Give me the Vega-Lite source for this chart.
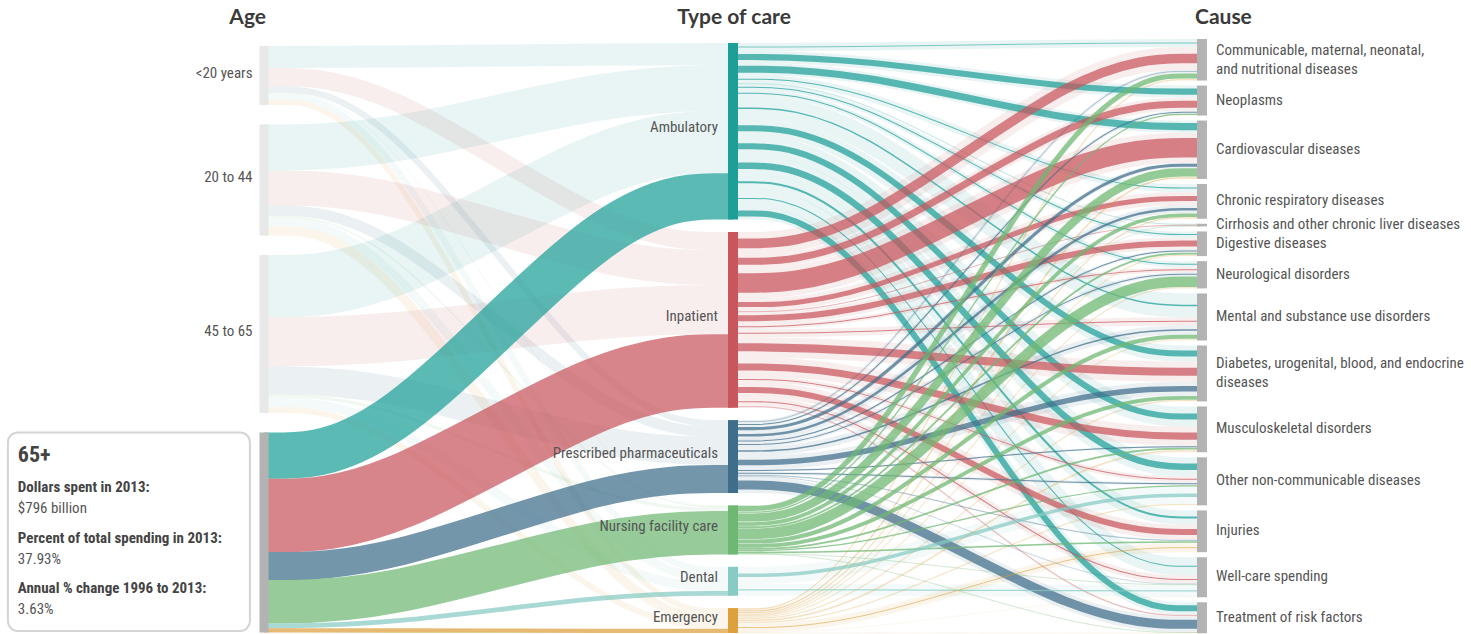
{
  "$schema": "https://vega.github.io/schema/vega-lite/v6.json",
  "width": 1471,
  "height": 634,
  "padding": 0,
  "autosize": {"type": "none"},
  "background": "white",
  "config": {"view": {"stroke": null}},
  "datasets": {
    "ageLinks": [
      {"age": "<20 years", "care": "Ambulatory", "value": 88},
      {"age": "<20 years", "care": "Inpatient", "value": 72},
      {"age": "<20 years", "care": "Prescribed pharmaceuticals", "value": 25},
      {"age": "<20 years", "care": "Nursing facility care", "value": 3},
      {"age": "<20 years", "care": "Dental", "value": 25},
      {"age": "<20 years", "care": "Emergency", "value": 22},
      {"age": "20 to 44", "care": "Ambulatory", "value": 183},
      {"age": "20 to 44", "care": "Inpatient", "value": 139},
      {"age": "20 to 44", "care": "Prescribed pharmaceuticals", "value": 42},
      {"age": "20 to 44", "care": "Nursing facility care", "value": 6},
      {"age": "20 to 44", "care": "Dental", "value": 34},
      {"age": "20 to 44", "care": "Emergency", "value": 37},
      {"age": "45 to 65", "care": "Ambulatory", "value": 247},
      {"age": "45 to 65", "care": "Inpatient", "value": 196},
      {"age": "45 to 65", "care": "Prescribed pharmaceuticals", "value": 112},
      {"age": "45 to 65", "care": "Nursing facility care", "value": 13},
      {"age": "45 to 65", "care": "Dental", "value": 37},
      {"age": "45 to 65", "care": "Emergency", "value": 23},
      {"age": "65+", "care": "Ambulatory", "value": 184},
      {"age": "65+", "care": "Inpatient", "value": 292},
      {"age": "65+", "care": "Prescribed pharmaceuticals", "value": 111},
      {"age": "65+", "care": "Nursing facility care", "value": 173},
      {"age": "65+", "care": "Dental", "value": 19},
      {"age": "65+", "care": "Emergency", "value": 17}
    ],
    "careLinks": [
      {"care": "Ambulatory", "cause": "Communicable, maternal, neonatal, and nutritional diseases", "total": 32, "older": 3},
      {"care": "Ambulatory", "cause": "Neoplasms", "total": 48, "older": 24},
      {"care": "Ambulatory", "cause": "Cardiovascular diseases", "total": 48, "older": 28},
      {"care": "Ambulatory", "cause": "Chronic respiratory diseases", "total": 32, "older": 4},
      {"care": "Ambulatory", "cause": "Cirrhosis and other chronic liver diseases", "total": 4, "older": 1},
      {"care": "Ambulatory", "cause": "Digestive diseases", "total": 24, "older": 4},
      {"care": "Ambulatory", "cause": "Neurological disorders", "total": 24, "older": 4},
      {"care": "Ambulatory", "cause": "Mental and substance use disorders", "total": 95, "older": 6},
      {"care": "Ambulatory", "cause": "Diabetes, urogenital, blood, and endocrine diseases", "total": 64, "older": 24},
      {"care": "Ambulatory", "cause": "Musculoskeletal disorders", "total": 80, "older": 24},
      {"care": "Ambulatory", "cause": "Other non-communicable diseases", "total": 75, "older": 26},
      {"care": "Ambulatory", "cause": "Injuries", "total": 56, "older": 8},
      {"care": "Ambulatory", "cause": "Well-care spending", "total": 72, "older": 4},
      {"care": "Ambulatory", "cause": "Treatment of risk factors", "total": 48, "older": 24},
      {"care": "Inpatient", "cause": "Communicable, maternal, neonatal, and nutritional diseases", "total": 91, "older": 38},
      {"care": "Inpatient", "cause": "Neoplasms", "total": 52, "older": 28},
      {"care": "Inpatient", "cause": "Cardiovascular diseases", "total": 120, "older": 78},
      {"care": "Inpatient", "cause": "Chronic respiratory diseases", "total": 52, "older": 20},
      {"care": "Inpatient", "cause": "Cirrhosis and other chronic liver diseases", "total": 4, "older": 2},
      {"care": "Inpatient", "cause": "Digestive diseases", "total": 48, "older": 24},
      {"care": "Inpatient", "cause": "Neurological disorders", "total": 20, "older": 4},
      {"care": "Inpatient", "cause": "Mental and substance use disorders", "total": 32, "older": 4},
      {"care": "Inpatient", "cause": "Diabetes, urogenital, blood, and endocrine diseases", "total": 80, "older": 32},
      {"care": "Inpatient", "cause": "Musculoskeletal disorders", "total": 76, "older": 28},
      {"care": "Inpatient", "cause": "Other non-communicable diseases", "total": 24, "older": 4},
      {"care": "Inpatient", "cause": "Injuries", "total": 60, "older": 24},
      {"care": "Inpatient", "cause": "Well-care spending", "total": 32, "older": 4},
      {"care": "Inpatient", "cause": "Treatment of risk factors", "total": 8, "older": 2},
      {"care": "Prescribed pharmaceuticals", "cause": "Communicable, maternal, neonatal, and nutritional diseases", "total": 12, "older": 2},
      {"care": "Prescribed pharmaceuticals", "cause": "Neoplasms", "total": 12, "older": 4},
      {"care": "Prescribed pharmaceuticals", "cause": "Cardiovascular diseases", "total": 20, "older": 12},
      {"care": "Prescribed pharmaceuticals", "cause": "Chronic respiratory diseases", "total": 32, "older": 10},
      {"care": "Prescribed pharmaceuticals", "cause": "Cirrhosis and other chronic liver diseases", "total": 1, "older": 0.4},
      {"care": "Prescribed pharmaceuticals", "cause": "Digestive diseases", "total": 12, "older": 4},
      {"care": "Prescribed pharmaceuticals", "cause": "Neurological disorders", "total": 16, "older": 4},
      {"care": "Prescribed pharmaceuticals", "cause": "Mental and substance use disorders", "total": 36, "older": 6},
      {"care": "Prescribed pharmaceuticals", "cause": "Diabetes, urogenital, blood, and endocrine diseases", "total": 56, "older": 22},
      {"care": "Prescribed pharmaceuticals", "cause": "Musculoskeletal disorders", "total": 8, "older": 4},
      {"care": "Prescribed pharmaceuticals", "cause": "Other non-communicable diseases", "total": 12, "older": 4},
      {"care": "Prescribed pharmaceuticals", "cause": "Injuries", "total": 6, "older": 2},
      {"care": "Prescribed pharmaceuticals", "cause": "Well-care spending", "total": 4, "older": 1},
      {"care": "Prescribed pharmaceuticals", "cause": "Treatment of risk factors", "total": 63, "older": 36},
      {"care": "Nursing facility care", "cause": "Communicable, maternal, neonatal, and nutritional diseases", "total": 24, "older": 20},
      {"care": "Nursing facility care", "cause": "Neoplasms", "total": 6, "older": 5},
      {"care": "Nursing facility care", "cause": "Cardiovascular diseases", "total": 36, "older": 32},
      {"care": "Nursing facility care", "cause": "Chronic respiratory diseases", "total": 16, "older": 14},
      {"care": "Nursing facility care", "cause": "Cirrhosis and other chronic liver diseases", "total": 1, "older": 1},
      {"care": "Nursing facility care", "cause": "Digestive diseases", "total": 8, "older": 7},
      {"care": "Nursing facility care", "cause": "Neurological disorders", "total": 44, "older": 42},
      {"care": "Nursing facility care", "cause": "Mental and substance use disorders", "total": 18, "older": 16},
      {"care": "Nursing facility care", "cause": "Diabetes, urogenital, blood, and endocrine diseases", "total": 16, "older": 15},
      {"care": "Nursing facility care", "cause": "Musculoskeletal disorders", "total": 8, "older": 7},
      {"care": "Nursing facility care", "cause": "Other non-communicable diseases", "total": 6, "older": 5},
      {"care": "Nursing facility care", "cause": "Injuries", "total": 8, "older": 6},
      {"care": "Nursing facility care", "cause": "Well-care spending", "total": 2, "older": 1.5},
      {"care": "Nursing facility care", "cause": "Treatment of risk factors", "total": 2, "older": 1.5},
      {"care": "Dental", "cause": "Other non-communicable diseases", "total": 68, "older": 14},
      {"care": "Dental", "cause": "Well-care spending", "total": 47, "older": 5},
      {"care": "Emergency", "cause": "Communicable, maternal, neonatal, and nutritional diseases", "total": 6, "older": 1.6},
      {"care": "Emergency", "cause": "Neoplasms", "total": 1, "older": 0.4},
      {"care": "Emergency", "cause": "Cardiovascular diseases", "total": 8, "older": 2.4},
      {"care": "Emergency", "cause": "Chronic respiratory diseases", "total": 6, "older": 1.6},
      {"care": "Emergency", "cause": "Cirrhosis and other chronic liver diseases", "total": 0.4, "older": 0.2},
      {"care": "Emergency", "cause": "Digestive diseases", "total": 6, "older": 1.2},
      {"care": "Emergency", "cause": "Neurological disorders", "total": 4, "older": 1.2},
      {"care": "Emergency", "cause": "Mental and substance use disorders", "total": 6, "older": 0.8},
      {"care": "Emergency", "cause": "Diabetes, urogenital, blood, and endocrine diseases", "total": 6, "older": 1.2},
      {"care": "Emergency", "cause": "Musculoskeletal disorders", "total": 10, "older": 1.6},
      {"care": "Emergency", "cause": "Other non-communicable diseases", "total": 6, "older": 1.2},
      {"care": "Emergency", "cause": "Injuries", "total": 36, "older": 3.2},
      {"care": "Emergency", "cause": "Well-care spending", "total": 2, "older": 0.2},
      {"care": "Emergency", "cause": "Treatment of risk factors", "total": 2, "older": 0.4}
    ],
    "info": [
      {"age": "65+", "spent": "$796 billion", "share": "37.93%", "change": "3.63%"}
    ]
  },
  "layer": [
    {
      "data": {"name": "ageLinks"},
      "transform": [
        {"calculate": "indexof(['<20 years','20 to 44','45 to 65','65+'], datum.age)", "as": "ai"},
        {"calculate": "indexof(['Ambulatory','Inpatient','Prescribed pharmaceuticals','Nursing facility care','Dental','Emergency'], datum.care)", "as": "ci"},
        {"window": [{"op": "sum", "field": "value", "as": "cs"}], "sort": [{"field": "ai"}, {"field": "ci"}], "frame": [null, 0]},
        {"window": [{"op": "sum", "field": "value", "as": "ct"}], "sort": [{"field": "ci"}, {"field": "ai"}], "frame": [null, 0]},
        {"calculate": "datum.cs - datum.value/2 + datum.ai*77.5 + 27.8", "as": "p0"},
        {"calculate": "datum.p0", "as": "p1"},
        {"calculate": "datum.ct - datum.value/2 + datum.ci*49.2 + 15.9", "as": "p3"},
        {"calculate": "datum.p3", "as": "p2"},
        {"fold": ["p0", "p1", "p2", "p3"], "as": ["pt", "y"]},
        {"calculate": "datum.pt == 'p0' ? 0 : datum.pt == 'p1' ? 0.25 : datum.pt == 'p2' ? 0.75 : 1", "as": "x"}
      ],
      "encoding": {
        "x": {"field": "x", "type": "quantitative", "scale": {"domain": [0, 2], "range": [264, 1202]}, "axis": null},
        "y": {"field": "y", "type": "quantitative", "scale": {"domain": [0, 2366], "range": [39, 634]}, "axis": null},
        "detail": [{"field": "age"}, {"field": "care"}],
        "color": {"field": "care", "type": "nominal", "scale": {"domain": ["Ambulatory", "Inpatient", "Prescribed pharmaceuticals", "Nursing facility care", "Dental", "Emergency"], "range": ["#1d9f98", "#c8565d", "#3e6e8a", "#6fb873", "#87cbc4", "#dca03c"]}, "legend": null},
        "strokeWidth": {"field": "value", "type": "quantitative", "scale": {"domain": [0, 2366], "range": [0, 595]}, "legend": null}
      },
      "layer": [
        {"transform": [{"filter": "datum.age != '65+'"}], "mark": {"type": "line", "interpolate": "basis", "opacity": 0.1, "strokeCap": "butt"}},
        {"transform": [{"filter": "datum.age == '65+'"}], "mark": {"type": "line", "interpolate": "basis", "opacity": 0.72, "strokeCap": "butt"}}
      ]
    },
    {
      "data": {"name": "careLinks"},
      "transform": [
        {"calculate": "indexof(['Ambulatory','Inpatient','Prescribed pharmaceuticals','Nursing facility care','Dental','Emergency'], datum.care)", "as": "ci"},
        {"calculate": "indexof(['Communicable, maternal, neonatal, and nutritional diseases','Neoplasms','Cardiovascular diseases','Chronic respiratory diseases','Cirrhosis and other chronic liver diseases','Digestive diseases','Neurological disorders','Mental and substance use disorders','Diabetes, urogenital, blood, and endocrine diseases','Musculoskeletal disorders','Other non-communicable diseases','Injuries','Well-care spending','Treatment of risk factors'], datum.cause)", "as": "ki"},
        {"window": [{"op": "sum", "field": "total", "as": "cs"}], "sort": [{"field": "ci"}, {"field": "ki"}], "frame": [null, 0]},
        {"window": [{"op": "sum", "field": "total", "as": "ct"}], "sort": [{"field": "ki"}, {"field": "ci"}], "frame": [null, 0]},
        {"calculate": "datum.cs - datum.total/2 + datum.ci*49.2 + 15.9", "as": "p0"},
        {"calculate": "datum.p0", "as": "p1"},
        {"calculate": "datum.ct - datum.total/2 + datum.ki*20.2", "as": "p3"},
        {"calculate": "datum.p3", "as": "p2"},
        {"fold": ["p0", "p1", "p2", "p3"], "as": ["pt", "y"]},
        {"calculate": "datum.pt == 'p0' ? 1 : datum.pt == 'p1' ? 1.25 : datum.pt == 'p2' ? 1.75 : 2", "as": "x"}
      ],
      "encoding": {
        "x": {"field": "x", "type": "quantitative", "scale": {"domain": [0, 2], "range": [264, 1202]}, "axis": null},
        "y": {"field": "y", "type": "quantitative", "scale": {"domain": [0, 2366], "range": [39, 634]}, "axis": null},
        "detail": [{"field": "care"}, {"field": "cause"}],
        "color": {"field": "care", "type": "nominal", "scale": {"domain": ["Ambulatory", "Inpatient", "Prescribed pharmaceuticals", "Nursing facility care", "Dental", "Emergency"], "range": ["#1d9f98", "#c8565d", "#3e6e8a", "#6fb873", "#87cbc4", "#dca03c"]}, "legend": null}
      },
      "layer": [
        {"mark": {"type": "line", "interpolate": "basis", "opacity": 0.1, "strokeCap": "butt"},
         "encoding": {"strokeWidth": {"field": "total", "type": "quantitative", "scale": {"domain": [0, 2366], "range": [0, 595]}, "legend": null}}},
        {"mark": {"type": "line", "interpolate": "basis", "opacity": 0.72, "strokeCap": "butt"},
         "encoding": {"strokeWidth": {"field": "older", "type": "quantitative", "scale": {"domain": [0, 2366], "range": [0, 595]}, "legend": null}}}
      ]
    },
    {
      "data": {"name": "ageLinks"},
      "transform": [
        {"aggregate": [{"op": "sum", "field": "value", "as": "v"}], "groupby": ["age"]},
        {"calculate": "indexof(['<20 years','20 to 44','45 to 65','65+'], datum.age)", "as": "ai"},
        {"window": [{"op": "sum", "field": "v", "as": "cum"}], "sort": [{"field": "ai"}], "frame": [null, 0]},
        {"calculate": "datum.cum - datum.v + datum.ai*77.5 + 27.8", "as": "y0"},
        {"calculate": "datum.y0 + datum.v", "as": "y1"},
        {"calculate": "(datum.y0 + datum.y1)/2", "as": "ym"},
        {"calculate": "-0.0096", "as": "xa"},
        {"calculate": "0.0096", "as": "xb"}
      ],
      "layer": [
        {"mark": {"type": "rect"},
         "encoding": {
           "x": {"field": "xa", "type": "quantitative", "scale": {"domain": [0, 2], "range": [264, 1202]}, "axis": null},
           "x2": {"field": "xb"},
           "y": {"field": "y0", "type": "quantitative", "scale": {"domain": [0, 2366], "range": [39, 634]}, "axis": null},
           "y2": {"field": "y1"},
           "color": {"condition": {"test": "datum.age == '65+'", "value": "#b3b3b3"}, "value": "#e8e8e8"}
         }},
        {"transform": [{"filter": "datum.age != '65+'"}],
         "mark": {"type": "text", "align": "right", "baseline": "middle", "dx": -7, "dy": -3, "font": "Liberation Sans Narrow, Roboto Condensed, DejaVu Sans Condensed, sans-serif", "fontSize": 15, "fill": "#555555"},
         "encoding": {
           "x": {"field": "xa", "type": "quantitative", "scale": {"domain": [0, 2], "range": [264, 1202]}, "axis": null},
           "y": {"field": "ym", "type": "quantitative", "scale": {"domain": [0, 2366], "range": [39, 634]}, "axis": null},
           "text": {"field": "age"}
         }}
      ]
    },
    {
      "data": {"name": "ageLinks"},
      "transform": [
        {"aggregate": [{"op": "sum", "field": "value", "as": "v"}], "groupby": ["care"]},
        {"calculate": "indexof(['Ambulatory','Inpatient','Prescribed pharmaceuticals','Nursing facility care','Dental','Emergency'], datum.care)", "as": "ci"},
        {"window": [{"op": "sum", "field": "v", "as": "cum"}], "sort": [{"field": "ci"}], "frame": [null, 0]},
        {"calculate": "datum.cum - datum.v + datum.ci*49.2 + 15.9", "as": "y0"},
        {"calculate": "datum.y0 + datum.v", "as": "y1"},
        {"calculate": "(datum.y0 + datum.y1)/2", "as": "ym"},
        {"calculate": "1 - 0.0107", "as": "xa"},
        {"calculate": "1 + 0.0107", "as": "xb"}
      ],
      "layer": [
        {"mark": {"type": "rect"},
         "encoding": {
           "x": {"field": "xa", "type": "quantitative", "scale": {"domain": [0, 2], "range": [264, 1202]}, "axis": null},
           "x2": {"field": "xb"},
           "y": {"field": "y0", "type": "quantitative", "scale": {"domain": [0, 2366], "range": [39, 634]}, "axis": null},
           "y2": {"field": "y1"},
           "color": {"field": "care", "type": "nominal", "scale": {"domain": ["Ambulatory", "Inpatient", "Prescribed pharmaceuticals", "Nursing facility care", "Dental", "Emergency"], "range": ["#1d9f98", "#c8565d", "#3e6e8a", "#6fb873", "#87cbc4", "#dca03c"]}, "legend": null}
         }},
        {"mark": {"type": "text", "align": "right", "baseline": "middle", "dx": -10, "dy": -4, "font": "Liberation Sans Narrow, Roboto Condensed, DejaVu Sans Condensed, sans-serif", "fontSize": 15, "fill": "#555555"},
         "encoding": {
           "x": {"field": "xa", "type": "quantitative", "scale": {"domain": [0, 2], "range": [264, 1202]}, "axis": null},
           "y": {"field": "ym", "type": "quantitative", "scale": {"domain": [0, 2366], "range": [39, 634]}, "axis": null},
           "text": {"field": "care"}
         }}
      ]
    },
    {
      "data": {"name": "careLinks"},
      "transform": [
        {"aggregate": [{"op": "sum", "field": "total", "as": "v"}], "groupby": ["cause"]},
        {"calculate": "indexof(['Communicable, maternal, neonatal, and nutritional diseases','Neoplasms','Cardiovascular diseases','Chronic respiratory diseases','Cirrhosis and other chronic liver diseases','Digestive diseases','Neurological disorders','Mental and substance use disorders','Diabetes, urogenital, blood, and endocrine diseases','Musculoskeletal disorders','Other non-communicable diseases','Injuries','Well-care spending','Treatment of risk factors'], datum.cause)", "as": "ki"},
        {"window": [{"op": "sum", "field": "v", "as": "cum"}], "sort": [{"field": "ki"}], "frame": [null, 0]},
        {"calculate": "datum.cum - datum.v + datum.ki*20.2", "as": "y0"},
        {"calculate": "datum.y0 + datum.v", "as": "y1"},
        {"calculate": "(datum.y0 + datum.y1)/2", "as": "ym"},
        {"calculate": "2 - 0.0107", "as": "xa"},
        {"calculate": "2 + 0.0107", "as": "xb"},
        {"calculate": "replace(replace(datum.cause, 'neonatal, and', 'neonatal,\\nand'), 'endocrine diseases', 'endocrine\\ndiseases')", "as": "label"}
      ],
      "encoding": {
        "x": {"field": "xb", "type": "quantitative", "scale": {"domain": [0, 2], "range": [264, 1202]}, "axis": null},
        "y": {"field": "ym", "type": "quantitative", "scale": {"domain": [0, 2366], "range": [39, 634]}, "axis": null},
        "text": {"field": "label"}
      },
      "layer": [
        {"mark": {"type": "rect", "fill": "#b3b3b3"},
         "encoding": {
           "x": {"field": "xa", "type": "quantitative", "scale": {"domain": [0, 2], "range": [264, 1202]}, "axis": null},
           "x2": {"field": "xb"},
           "y": {"field": "y0", "type": "quantitative", "scale": {"domain": [0, 2366], "range": [39, 634]}, "axis": null},
           "y2": {"field": "y1"},
           "text": null
         }},
        {"transform": [{"filter": "indexof(datum.label, '\\n') < 0"}],
         "mark": {"type": "text", "align": "left", "baseline": "middle", "dx": 9, "dy": -1, "font": "Liberation Sans Narrow, Roboto Condensed, DejaVu Sans Condensed, sans-serif", "fontSize": 15, "fill": "#555555"}},
        {"transform": [{"filter": "indexof(datum.label, '\\n') >= 0"}],
         "mark": {"type": "text", "align": "left", "baseline": "middle", "dx": 9, "dy": -10, "lineBreak": "\n", "lineHeight": 19, "font": "Liberation Sans Narrow, Roboto Condensed, DejaVu Sans Condensed, sans-serif", "fontSize": 15, "fill": "#555555"}}
      ]
    },
    {
      "data": {"name": "ageLinks"},
      "transform": [
        {"aggregate": [{"op": "sum", "field": "value", "as": "v"}], "groupby": ["age"]},
        {"calculate": "indexof(['<20 years','20 to 44','45 to 65','65+'], datum.age)", "as": "ai"},
        {"window": [{"op": "sum", "field": "v", "as": "cum"}], "sort": [{"field": "ai"}], "frame": [null, 0]},
        {"calculate": "datum.cum - datum.v + datum.ai*77.5 + 27.8", "as": "y0"},
        {"calculate": "datum.y0 + datum.v - 6", "as": "y1"},
        {"filter": "datum.age == '65+'"},
        {"lookup": "age", "from": {"data": {"name": "info"}, "key": "age", "fields": ["spent", "share", "change"]}},
        {"calculate": "[datum.spent, datum.share, datum.change]", "as": "lines"},
        {"calculate": "-0.546", "as": "bx0"},
        {"calculate": "-0.03", "as": "bx1"},
        {"calculate": "-0.5248", "as": "tx"}
      ],
      "encoding": {
        "x": {"field": "tx", "type": "quantitative", "scale": {"domain": [0, 2], "range": [264, 1202]}, "axis": null},
        "y": {"field": "y0", "type": "quantitative", "scale": {"domain": [0, 2366], "range": [39, 634]}, "axis": null}
      },
      "layer": [
        {"mark": {"type": "rect", "fill": "white", "stroke": "#d4d4d4", "strokeWidth": 2, "cornerRadius": 10},
         "encoding": {
           "x": {"field": "bx0", "type": "quantitative", "scale": {"domain": [0, 2], "range": [264, 1202]}, "axis": null},
           "x2": {"field": "bx1"},
           "y2": {"field": "y1"}
         }},
        {"mark": {"type": "text", "align": "left", "baseline": "alphabetic", "dy": 30, "font": "Liberation Sans Narrow, Roboto Condensed, DejaVu Sans Condensed, sans-serif", "fontSize": 22, "fontWeight": "bold", "fill": "#444444"},
         "encoding": {"text": {"field": "age"}}},
        {"mark": {"type": "text", "align": "left", "baseline": "alphabetic", "dy": 60, "lineHeight": 50.5, "font": "Liberation Sans Narrow, Roboto Condensed, DejaVu Sans Condensed, sans-serif", "fontSize": 15, "fontWeight": "bold", "fill": "#444444"},
         "encoding": {"text": {"value": ["Dollars spent in 2013:", "Percent of total spending in 2013:", "Annual % change 1996 to 2013:"]}}},
        {"mark": {"type": "text", "align": "left", "baseline": "alphabetic", "dy": 81, "lineHeight": 50.5, "font": "Liberation Sans Narrow, Roboto Condensed, DejaVu Sans Condensed, sans-serif", "fontSize": 15, "fill": "#555555"},
         "encoding": {"text": {"field": "lines"}}}
      ]
    },
    {
      "data": {"values": [{"title": "Age", "col": 0}]},
      "mark": {"type": "text", "align": "right", "baseline": "middle", "dx": 2, "font": "Lato", "fontSize": 21, "fontWeight": "bold", "fill": "#3a3a3a"},
      "encoding": {
        "x": {"field": "col", "type": "quantitative", "scale": {"domain": [0, 2], "range": [264, 1202]}, "axis": null},
        "y": {"datum": -83, "type": "quantitative", "scale": {"domain": [0, 2366], "range": [39, 634]}, "axis": null},
        "text": {"field": "title"}
      }
    },
    {
      "data": {"values": [{"title": "Type of care", "col": 1}]},
      "mark": {"type": "text", "align": "center", "baseline": "middle", "dx": 1, "font": "Lato", "fontSize": 21, "fontWeight": "bold", "fill": "#3a3a3a"},
      "encoding": {
        "x": {"field": "col", "type": "quantitative", "scale": {"domain": [0, 2], "range": [264, 1202]}, "axis": null},
        "y": {"datum": -83, "type": "quantitative", "scale": {"domain": [0, 2366], "range": [39, 634]}, "axis": null},
        "text": {"field": "title"}
      }
    },
    {
      "data": {"values": [{"title": "Cause", "col": 2}]},
      "mark": {"type": "text", "align": "left", "baseline": "middle", "dx": -7, "font": "Lato", "fontSize": 21, "fontWeight": "bold", "fill": "#3a3a3a"},
      "encoding": {
        "x": {"field": "col", "type": "quantitative", "scale": {"domain": [0, 2], "range": [264, 1202]}, "axis": null},
        "y": {"datum": -83, "type": "quantitative", "scale": {"domain": [0, 2366], "range": [39, 634]}, "axis": null},
        "text": {"field": "title"}
      }
    }
  ]
}
